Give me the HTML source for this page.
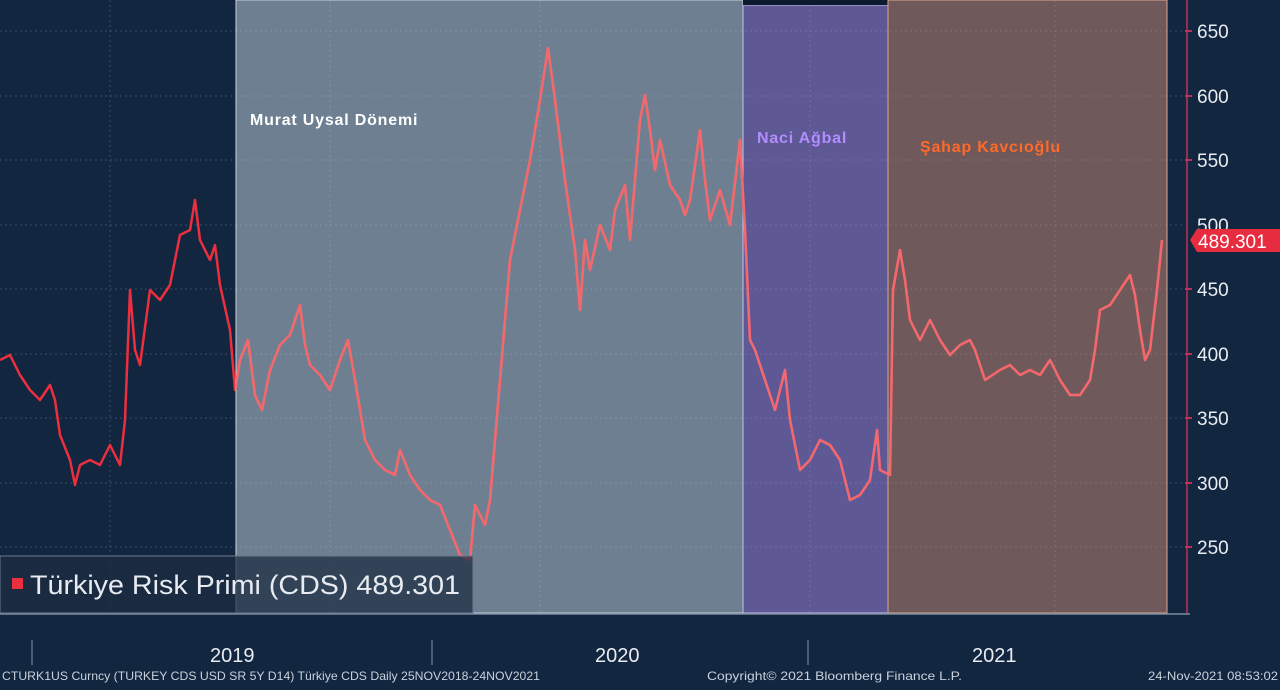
<!DOCTYPE html>
<html><head><meta charset="utf-8"><style>
body{margin:0;background:#13263f;width:1280px;height:685px;overflow:hidden;font-family:"Liberation Sans","DejaVu Sans",sans-serif}
</style></head><body>
<svg width="1280" height="685" viewBox="0 0 1280 685" xmlns="http://www.w3.org/2000/svg">
<defs>
<polyline id="ln" fill="none" stroke-width="2.5" stroke-linejoin="round" points="0,360 10,355 20,375 30,390 40,400 50,385 55,400 60,435 70,460 75,485 80,465 90,460 100,465 110,445 120,465 125,420 130,290 135,350 140,365 150,290 160,300 170,285 180,235 190,230 195,200 200,240 210,260 215,245 220,285 230,330 235,390 240,360 248,340 255,395 262,410 270,370 280,345 290,335 300,305 305,345 310,365 320,375 330,390 340,360 348,340 355,380 365,440 375,460 385,470 395,475 400,450 410,475 420,490 430,500 440,505 450,530 460,555 470,560 475,505 485,525 490,500 510,260 520,210 530,160 540,100 548,48 555,100 565,180 575,250 580,310 585,240 590,270 600,225 610,250 615,210 625,185 630,240 640,120 645,95 650,130 655,170 660,140 670,185 680,200 685,215 690,200 700,130 705,180 710,220 720,190 730,225 740,140 745,230 750,340 755,350 765,380 775,410 785,370 790,420 800,470 810,460 820,440 830,445 840,460 850,500 860,495 870,480 877,430 880,470 890,475 893,290 900,250 905,280 910,320 920,340 930,320 940,340 950,355 960,345 970,340 975,350 985,380 1000,370 1010,365 1020,375 1030,370 1040,375 1050,360 1060,380 1070,395 1080,395 1090,380 1095,350 1100,310 1110,305 1120,290 1130,275 1135,295 1140,330 1145,360 1150,350 1157,290 1162,240"/>
<clipPath id="sh"><rect x="236" y="0" width="931" height="613"/></clipPath>
</defs>
<rect width="1280" height="685" fill="#13263f"/>
<g stroke="#3a4c66" stroke-width="1" stroke-dasharray="2,3">
<line x1="0" y1="31" x2="1185" y2="31"/><line x1="0" y1="96" x2="1185" y2="96"/><line x1="0" y1="160" x2="1185" y2="160"/><line x1="0" y1="225" x2="1185" y2="225"/><line x1="0" y1="289" x2="1185" y2="289"/><line x1="0" y1="354" x2="1185" y2="354"/><line x1="0" y1="418" x2="1185" y2="418"/><line x1="0" y1="483" x2="1185" y2="483"/><line x1="0" y1="547" x2="1185" y2="547"/>
<line x1="110" y1="0" x2="110" y2="613"/><line x1="330" y1="0" x2="330" y2="613"/><line x1="540" y1="0" x2="540" y2="613"/><line x1="810" y1="0" x2="810" y2="613"/><line x1="1055" y1="0" x2="1055" y2="613"/>
</g>
<use href="#ln" stroke="#ec2f3f"/>
<rect x="236" y="0" width="507" height="613" fill="rgba(200,215,225,0.5)" stroke="#c8d2da" stroke-width="1"/>
<rect x="743" y="5" width="145" height="608" fill="rgba(170,140,235,0.5)" stroke="#c9c0f0" stroke-width="1"/>
<rect x="743" y="0" width="145" height="5" fill="#0c1a30"/>
<rect x="888" y="0" width="279" height="613" fill="rgba(205,140,120,0.5)" stroke="#d8a890" stroke-width="1"/>
<use href="#ln" stroke="#f2686c" clip-path="url(#sh)"/>
<text x="250" y="125" fill="#ffffff" font-size="16" font-weight="bold" letter-spacing="0.8">Murat Uysal Dönemi</text>
<text x="757" y="143" fill="#b48cff" font-size="16" font-weight="bold" letter-spacing="0.8">Naci Ağbal</text>
<text x="920" y="152" fill="#ff6a2a" font-size="16" font-weight="bold" letter-spacing="0.8">Şahap Kavcıoğlu</text>
<line x1="1187" y1="0" x2="1187" y2="614" stroke="#c0305a" stroke-width="1.5"/>
<line x1="0" y1="614" x2="1190" y2="614" stroke="#7a8aa0" stroke-width="1.5"/>
<g fill="#e8ecf2" font-size="19">
<text x="1197" y="38">650</text><text x="1197" y="103">600</text><text x="1197" y="167">550</text><text x="1197" y="232">500</text><text x="1197" y="296">450</text><text x="1197" y="361">400</text><text x="1197" y="425">350</text><text x="1197" y="490">300</text><text x="1197" y="554">250</text>
</g>
<g stroke="#c0305a" stroke-width="2">
<line x1="1185" y1="31" x2="1192" y2="31"/><line x1="1185" y1="96" x2="1192" y2="96"/><line x1="1185" y1="160" x2="1192" y2="160"/><line x1="1185" y1="289" x2="1192" y2="289"/><line x1="1185" y1="354" x2="1192" y2="354"/><line x1="1185" y1="418" x2="1192" y2="418"/><line x1="1185" y1="483" x2="1192" y2="483"/><line x1="1185" y1="547" x2="1192" y2="547"/>
</g>
<polygon points="1190,240 1197,229 1280,229 1280,252 1197,252" fill="#e82c40"/>
<text x="1198" y="248" fill="#ffffff" font-size="19">489.301</text>
<rect x="0" y="556" width="473" height="57" fill="rgba(28,44,66,0.72)" stroke="#6c7a8c" stroke-width="1"/>
<rect x="12" y="578" width="11" height="11" fill="#ec2f3f"/>
<text x="30" y="594" fill="#e8ecf2" font-size="27" textLength="430" lengthAdjust="spacingAndGlyphs">Türkiye Risk Primi (CDS) 489.301</text>
<g stroke="#8090a8" stroke-width="1"><line x1="32" y1="640" x2="32" y2="665"/><line x1="432" y1="640" x2="432" y2="665"/><line x1="808" y1="640" x2="808" y2="665"/></g>
<g fill="#e8ecf2" font-size="20"><text x="210" y="662">2019</text><text x="595" y="662">2020</text><text x="972" y="662">2021</text></g>
<g fill="#c8d0dc" font-size="12"><text x="2" y="680" textLength="538" lengthAdjust="spacingAndGlyphs">CTURK1US Curncy (TURKEY CDS USD SR 5Y D14) Türkiye CDS  Daily 25NOV2018-24NOV2021</text><text x="707" y="680" textLength="255" lengthAdjust="spacingAndGlyphs">Copyright© 2021 Bloomberg Finance L.P.</text><text x="1148" y="680" textLength="130" lengthAdjust="spacingAndGlyphs">24-Nov-2021 08:53:02</text></g>
</svg>
</body></html>
